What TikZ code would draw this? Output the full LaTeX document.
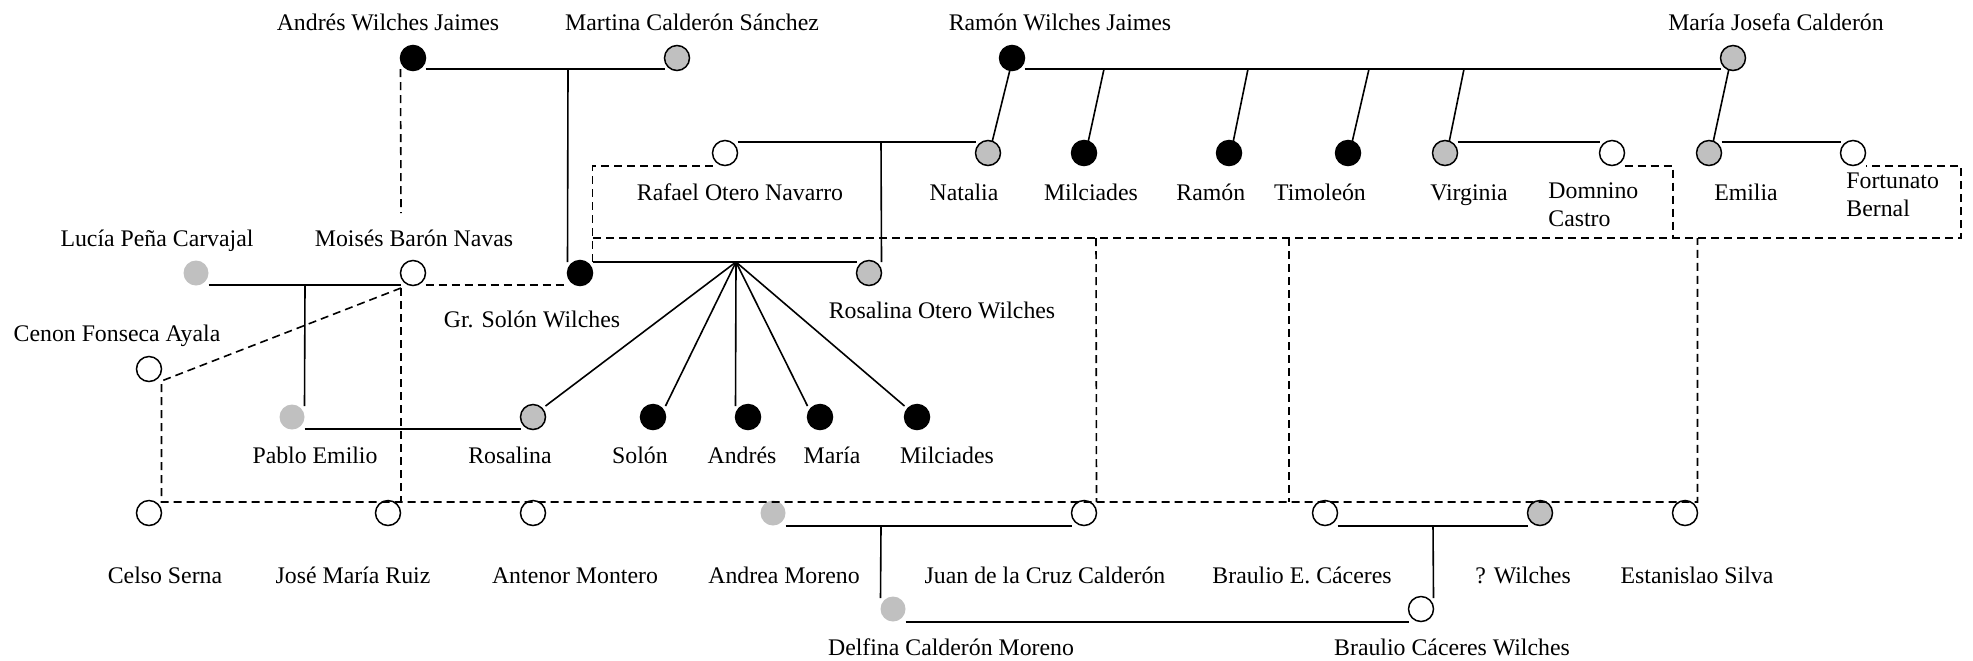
\documentclass[tikz,border=0pt]{standalone}
\usepackage{fontspec}
\setmainfont{Liberation Serif}
\usetikzlibrary{calc}
\definecolor{pgray}{HTML}{C0C0C0}
\begin{document}
\begin{tikzpicture}[
 x=0.5pt, y=-0.5pt,
 per/.style={circle, minimum size=12.5pt, inner sep=0pt, outer sep=0pt, line width=0.75pt},
 pblack/.style={per, draw=black, fill=black},
 pgrey/.style={per, draw=black, fill=pgray},
 plight/.style={per, fill=pgray},
 pwhite/.style={per, draw=black, fill=white},
 lnk/.style={line width=0.8pt},
 dsh/.style={line width=0.8pt, dash pattern=on 4pt off 2.5pt},
 lab/.style={anchor=base, inner sep=0pt, font=\fontsize{11.9}{14}\selectfont},
 labl/.style={lab, anchor=base west},
]
\useasboundingbox (0,0) rectangle (1973,660);

% persons
\node[pblack] (aw) at (413,58) {};
\node[pgrey]  (mc) at (677,58) {};
\node[pblack] (rw) at (1012,58) {};
\node[pgrey]  (mj) at (1733,58) {};
\node[plight] (lp) at (196,273) {};
\node[pwhite] (mb) at (413,273) {};
\node[pblack] (gs) at (580,273) {};
\node[pgrey]  (ro) at (869,273) {};
\node[pwhite] (rf) at (725,153) {};
\node[pgrey]  (na) at (988,153) {};
\node[pblack] (mia) at (1084,153) {};
\node[pblack] (ra) at (1229,153) {};
\node[pblack] (ti) at (1348,153) {};
\node[pgrey]  (vi) at (1445,153) {};
\node[pwhite] (dc) at (1612,153) {};
\node[pgrey]  (em) at (1709,153) {};
\node[pwhite] (fb) at (1853,153) {};
\node[pwhite] (cf) at (149,369) {};
\node[plight] (pe) at (292,417) {};
\node[pgrey]  (rs) at (533,417) {};
\node[pblack] (so) at (653,417) {};
\node[pblack] (an) at (748,417) {};
\node[pblack] (ma) at (820,417) {};
\node[pblack] (mib) at (917,417) {};
\node[pwhite] (cs) at (149,513) {};
\node[pwhite] (jr) at (388,513) {};
\node[pwhite] (am) at (533,513) {};
\node[plight] (amo) at (773,513) {};
\node[pwhite] (jc) at (1084,513) {};
\node[pwhite] (be) at (1325,513) {};
\node[pgrey]  (qw) at (1540,513) {};
\node[pwhite] (es) at (1685,513) {};
\node[plight] (dm) at (893,609) {};
\node[pwhite] (bc) at (1421,609) {};

% helper coordinates
\coordinate (awmc) at (568,69);
\coordinate (cmi) at (1104,69);
\coordinate (cra) at (1248,69);
\coordinate (cti) at (1369,69);
\coordinate (cvi) at (1464,69);
\coordinate (rfna) at (881,142);
\coordinate (fan) at (736,262);
\coordinate (lpmb) at (305,285);
\coordinate (amojc) at (881,526);
\coordinate (beqw) at (1433,526);
\coordinate (d1) at (401,213);
\coordinate (j1) at (401,288);
\coordinate (b1) at (401,502);
\coordinate (bx1) at (593,238);
\coordinate (bx2) at (1961,238);
\coordinate (bx3) at (1961,166);
\coordinate (bx4) at (1673,238);
\coordinate (v1) at (1096,238);
\coordinate (v2t) at (1289,238);
\coordinate (v2b) at (1289,502);

% solid connectors
\draw[lnk] ($(aw.east)+(0,11)$) -- ($(mc.west)+(0,11)$);
\draw[lnk] (awmc) -- ($(gs.west)+(0,-11)$);
\draw[lnk] ($(rw.east)+(0,11)$) -- ($(mj.west)+(0,11)$);
\draw[lnk] (rw.-100) -- (na.70);
\draw[lnk] (cmi) -- (mia.70);
\draw[lnk] (cra) -- (ra.70);
\draw[lnk] (cti) -- (ti.70);
\draw[lnk] (cvi) -- (vi.70);
\draw[lnk] (mj.-110) -- (em.70);
\draw[lnk] ($(vi.east)+(0,-11)$) -- ($(dc.west)+(0,-11)$);
\draw[lnk] ($(em.east)+(0,-11)$) -- ($(fb.west)+(0,-11)$);
\draw[lnk] ($(rf.east)+(0,-11)$) -- ($(na.west)+(0,-11)$);
\draw[lnk] (rfna) -- ($(ro.east)+(0,-11)$);
\draw[lnk] ($(gs.east)+(0,-11)$) -- ($(ro.west)+(0,-11)$);
\draw[lnk] (fan) -- ($(rs.east)+(0,-11)$);
\draw[lnk] (fan) -- ($(so.east)+(0,-11)$);
\draw[lnk] (fan) -- ($(an.west)+(0,-11)$);
\draw[lnk] (fan) -- ($(ma.west)+(0,-11)$);
\draw[lnk] (fan) -- ($(mib.west)+(0,-11)$);
\draw[lnk] ($(lp.east)+(0,12)$) -- ($(mb.west)+(0,12)$);
\draw[lnk] (lpmb) -- ($(pe.east)+(0,-11)$);
\draw[lnk] ($(pe.east)+(0,12)$) -- ($(rs.west)+(0,12)$);
\draw[lnk] ($(amo.east)+(0,13)$) -- ($(jc.west)+(0,13)$);
\draw[lnk] (amojc) -- ($(dm.west)+(0,-11)$);
\draw[lnk] ($(dm.east)+(0,13)$) -- ($(bc.west)+(0,13)$);
\draw[lnk] ($(be.east)+(0,13)$) -- ($(qw.west)+(0,13)$);
\draw[lnk] (beqw) -- ($(bc.east)+(0,-11)$);

% dashed connectors
\draw[dsh] ($(aw.west)+(0,11)$) -- (d1);
\draw[dsh] (j1) -- (b1);
\draw[dsh] ($(mb.east)+(0,12)$) -- ($(gs.west)+(0,12)$);
\draw[dsh] (j1) -- ($(cf.east)+(0,12)$) -- ($(cs.east)+(0,-11)$) -- ($(es.east)+(0,-11)$) -- (es.east |- bx2);
\draw[dsh] ($(rf.west)+(0,13)$) -| ($(gs.east)+(0,-11)$);
\draw[dsh] (bx1) -- (bx2) -- (bx3) -- ($(fb.east)+(0,13)$);
\draw[dsh] ($(dc.east)+(0,13)$) -| (bx4);
\draw[dsh] (v1) -- ($(jc.east)+(0,-11)$);
\draw[dsh] (v2t) -- (v2b);

% labels
\node[lab] (t1) at (388,30) {Andrés Wilches Jaimes};
\node[lab] (t2) at (692,30) {Martina Calderón Sánchez};
\node[lab] (t3) at (1060,30) {Ramón Wilches Jaimes};
\node[lab] (t4) at (1776,30) {María Josefa Calderón};
\node[lab] (t5) at (157,246) {Lucía Peña Carvajal};
\node[lab] (t6) at (414,246) {Moisés Barón Navas};
\node[lab] (t7) at (532,327) {Gr. Solón Wilches};
\node[lab] (t8) at (740,200) {Rafael Otero Navarro};
\node[lab] (t9) at (964,200) {Natalia};
\node[lab] (t10) at (1091,200) {Milciades};
\node[labl] (t11) at (1176,200) {Ramón};
\node[lab] (t12) at (1320,200) {Timoleón};
\node[lab] (t13) at (1469,200) {Virginia};
\node[labl] (t14) at (1548,198) {Domnino};
\node[labl] (t15) at (1548,226) {Castro};
\node[lab] (t16) at (1746,200) {Emilia};
\node[labl] (t17) at (1846,188) {Fortunato};
\node[labl] (t18) at (1846,216) {Bernal};
\node[lab] (t19) at (942,318) {Rosalina Otero Wilches};
\node[lab] (t20) at (117,341) {Cenon Fonseca Ayala};
\node[lab] (t21) at (315,463) {Pablo Emilio};
\node[lab] (t22) at (510,463) {Rosalina};
\node[lab] (t23) at (640,463) {Solón};
\node[lab] (t24) at (742,463) {Andrés};
\node[lab] (t25) at (832,463) {María};
\node[lab] (t26) at (947,463) {Milciades};
\node[lab] (t27) at (165,583) {Celso Serna};
\node[lab] (t28) at (353,583) {José María Ruiz};
\node[lab] (t29) at (575,583) {Antenor Montero};
\node[lab] (t30) at (784,583) {Andrea Moreno};
\node[lab] (t31) at (1045,583) {Juan de la Cruz Calderón};
\node[lab] (t32) at (1302,583) {Braulio E. Cáceres};
\node[lab] (t33) at (1523,583) {? Wilches};
\node[lab] (t34) at (1697,583) {Estanislao Silva};
\node[lab] (t35) at (951,655) {Delfina Calderón Moreno};
\node[lab] (t36) at (1452,655) {Braulio Cáceres Wilches};
\end{tikzpicture}
\end{document}
